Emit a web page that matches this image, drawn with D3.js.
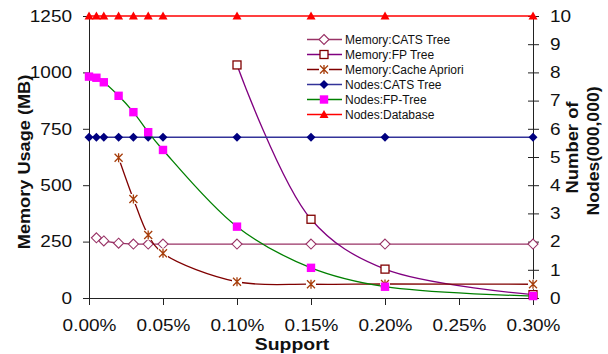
<!DOCTYPE html>
<html>
<head>
<meta charset="utf-8">
<script src="https://cdn.jsdelivr.net/npm/d3@7"></script>
<style>
html,body{margin:0;padding:0;background:#fff;}
svg{display:block;font-family:"Liberation Sans",Arial,sans-serif;}
</style>
</head>
<body>
<svg id="chart" width="608" height="354"></svg>
<script>
// ---- data ----
const supportNodes = [0, 0.005, 0.01, 0.02, 0.03, 0.04, 0.05, 0.10, 0.15, 0.20, 0.30];
const nodesDatabase = [10, 10, 10, 10, 10, 10, 10, 10, 10, 10, 10];
const nodesCATS = [5.7, 5.7, 5.7, 5.7, 5.7, 5.7, 5.7, 5.7, 5.7, 5.7, 5.7];
const nodesFP = [7.85, 7.81, 7.65, 7.17, 6.59, 5.88, 5.25, 2.53, 1.07, 0.40, 0.07];

const supportMemCATS = [0.005, 0.01, 0.02, 0.03, 0.04, 0.05, 0.10, 0.15, 0.20, 0.30];
const memCATS = [267, 253, 243, 239, 239, 239, 239, 239, 239, 239];

const supportMemFP = [0.10, 0.15, 0.20, 0.30];
const memFP = [1033, 349, 128, 15];

const supportCache = [0.02, 0.03, 0.04, 0.05, 0.10, 0.15, 0.20, 0.30];
const memCache = [622, 439, 279, 198, 72, 61, 62, 61];

const xTicks = [0, 0.05, 0.10, 0.15, 0.20, 0.25, 0.30];
const yLeftTicks = [0, 250, 500, 750, 1000, 1250];
const yRightTicks = [0, 1, 2, 3, 4, 5, 6, 7, 8, 9, 10];

const legendLabels = ["Memory:CATS Tree", "Memory:FP Tree", "Memory:Cache Apriori",
                      "Nodes:CATS Tree", "Nodes:FP-Tree", "Nodes:Database"];

// ---- setup ----
const svg = d3.select("#chart");
const pLeft = 89, pRight = 533, pTop = 16, pBottom = 298;
const x = d3.scaleLinear().domain([0, 0.30]).range([pLeft, pRight]);
const yL = d3.scaleLinear().domain([0, 1250]).range([pBottom, pTop]);
const yR = d3.scaleLinear().domain([0, 10]).range([pBottom, pTop]);

function stretch(sel, f) {
  sel.each(function () {
    const l = this.getComputedTextLength();
    d3.select(this).attr("textLength", l * f).attr("lengthAdjust", "spacingAndGlyphs");
  });
}

// ---- axes ----
const tickFont = 16.5, tickStretch = 1.15;
const gL = svg.append("g").attr("transform", `translate(${pLeft},0)`)
  .call(d3.axisLeft(yL).tickValues(yLeftTicks).tickSize(6).tickSizeOuter(0).tickPadding(11).tickFormat(d3.format("d")));
const gB = svg.append("g").attr("transform", `translate(0,${pBottom})`)
  .call(d3.axisBottom(x).tickValues(xTicks).tickSize(7).tickSizeOuter(0).tickPadding(14)
    .tickFormat(d => (d).toFixed(2) + "%"));
const gR = svg.append("g").attr("transform", `translate(${pRight},0)`)
  .call(d3.axisRight(yR).tickValues(yRightTicks).tickSize(6).tickSizeOuter(0).tickPadding(11).tickFormat(d3.format("d")));
gR.selectAll(".tick line").attr("x1", -5);
[gL, gB, gR].forEach(g => {
  g.attr("font-family", '"Liberation Sans",Arial,sans-serif');
  g.select(".domain").attr("stroke", "#222");
  g.selectAll(".tick line").attr("stroke", "#222");
  g.selectAll("text").attr("font-size", tickFont).attr("fill", "#111");
  stretch(g.selectAll("text"), tickStretch);
});

// ---- titles ----
const tL = svg.append("text").attr("transform", "translate(30,162) rotate(-90)")
  .attr("text-anchor", "middle").attr("font-weight", "bold").attr("font-size", 16.5).attr("fill", "#111")
  .text("Memory Usage (MB)");
stretch(tL, 1.1);
const tB = svg.append("text").attr("x", 292).attr("y", 350)
  .attr("text-anchor", "middle").attr("font-weight", "bold").attr("font-size", 17).attr("fill", "#111")
  .text("Support");
stretch(tB, 1.14);
const tR1 = svg.append("text").attr("transform", "translate(578,147.5) rotate(-90)")
  .attr("text-anchor", "middle").attr("font-weight", "bold").attr("font-size", 16).attr("fill", "#111")
  .text("Number of");
stretch(tR1, 1.15);
const tR2 = svg.append("text").attr("transform", "translate(599,151) rotate(-90)")
  .attr("text-anchor", "middle").attr("font-weight", "bold").attr("font-size", 16).attr("fill", "#111")
  .text("Nodes(000,000)");
stretch(tR2, 1.1);

// ---- markers ----
function drawMarker(g, type, cx, cy) {
  if (type === "diamondHollow") {
    g.append("path").attr("d", `M${cx},${cy-5}L${cx+5},${cy}L${cx},${cy+5}L${cx-5},${cy}Z`)
      .attr("fill", "#fff").attr("stroke", "#993366").attr("stroke-width", 1.1);
  } else if (type === "squareHollow") {
    g.append("rect").attr("x", cx - 4).attr("y", cy - 4).attr("width", 8).attr("height", 8)
      .attr("fill", "#fff").attr("stroke", "#800000").attr("stroke-width", 1.3);
  } else if (type === "star") {
    g.append("rect").attr("x", cx - 5).attr("y", cy - 5).attr("width", 10).attr("height", 10).attr("fill", "#fff");
    const r = 4;
    g.append("path").attr("d", `M${cx-r},${cy-r}L${cx+r},${cy+r}M${cx-r},${cy+r}L${cx+r},${cy-r}M${cx},${cy-r-0.5}L${cx},${cy+r+0.5}`)
      .attr("stroke", "#A63D0A").attr("stroke-width", 1.3).attr("fill", "none");
  } else if (type === "diamondFilled") {
    g.append("path").attr("d", `M${cx},${cy-4.5}L${cx+4.5},${cy}L${cx},${cy+4.5}L${cx-4.5},${cy}Z`)
      .attr("fill", "#000080");
  } else if (type === "squareFilled") {
    g.append("rect").attr("x", cx - 4.2).attr("y", cy - 4.2).attr("width", 8.4).attr("height", 8.4)
      .attr("fill", "#FF00FF");
  } else if (type === "triangle") {
    g.append("path").attr("d", `M${cx},${cy-4.5}L${cx+4.5},${cy+3.5}L${cx-4.5},${cy+3.5}Z`)
      .attr("fill", "#FF0000");
  }
}

// ---- series ----
const series = [
  {xs: supportMemCATS, ys: memCATS, scale: yL, line: "#993366", marker: "diamondHollow"},
  {xs: supportMemFP, ys: memFP, scale: yL, line: "#800080", marker: "squareHollow"},
  {xs: supportCache, ys: memCache, scale: yL, line: "#800000", marker: "star"},
  {xs: supportNodes, ys: nodesCATS, scale: yR, line: "#333399", marker: "diamondFilled"},
  {xs: supportNodes, ys: nodesFP, scale: yR, line: "#008000", marker: "squareFilled"},
  {xs: supportNodes, ys: nodesDatabase, scale: yR, line: "#FF0000", marker: "triangle"}
];

series.forEach(s => {
  const pts = s.xs.map((v, i) => [x(v), s.scale(s.ys[i])]);
  const g = svg.append("g");
  g.append("path").attr("d", d3.line().curve(d3.curveCatmullRom.alpha(0.5))(pts))
    .attr("fill", "none").attr("stroke", s.line).attr("stroke-width", 1.3);
  pts.forEach(p => drawMarker(g, s.marker, p[0], p[1]));
});

// ---- legend ----
const leg = svg.append("g");
series.forEach((s, i) => {
  const yy = 39.5 + i * 15;
  leg.append("line").attr("x1", 307).attr("x2", 342).attr("y1", yy).attr("y2", yy)
    .attr("stroke", s.line).attr("stroke-width", 1.3);
  drawMarker(leg, s.marker, 324, yy);
  leg.append("text").attr("x", 345).attr("y", yy + 4.3).attr("font-size", 12).attr("fill", "#111")
    .text(legendLabels[i]);
});
</script>
</body>
</html>
